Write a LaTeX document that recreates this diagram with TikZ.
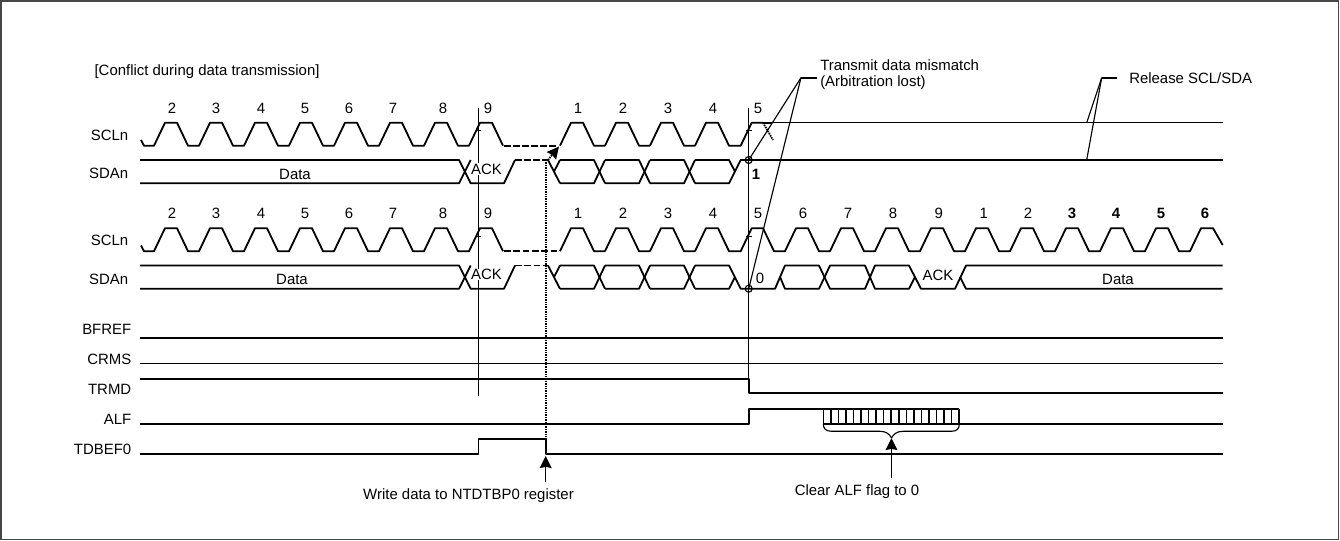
\documentclass[tikz,border=0pt]{standalone}
\usepackage{fontspec}
\setmainfont{Liberation Sans}
\usetikzlibrary{arrows.meta}
\tikzset{
    sig/.style={line width=1.35pt,line join=round},
    lean/.style={line width=1.15pt},
    lead/.style={line width=0.85pt},
    lbl/.style={inner sep=0pt,font=\fontsize{11.2}{12}\selectfont},
    boldlbl/.style={lbl,font=\fontsize{11.2}{12}\selectfont\bfseries},
    ack/.style={lbl,fill=white,inner sep=0.5pt},
    name lbl/.style={lbl,anchor=east},
    note/.style={lbl,anchor=west},
    spot/.style={line width=1.35pt,dash pattern=on 1.1pt off 0.7pt},
}
\begin{document}
\begin{tikzpicture}[x=0.75pt,y=-0.75pt,>={Stealth[length=9pt,width=8.8pt,inset=0.8pt]}]
    \useasboundingbox (0,0) rectangle (1340,541);
    \draw[gray!55!black,line width=1pt] (1,1) rectangle (1338.5,539.5);

    \node[note] (title) at (94.3,71.5) {[Conflict during data transmission]};

    \coordinate (misA) at (748.7,160);
    \coordinate (misB) at (748.7,288.7);
    \coordinate (misC) at (801,77.7);
    \coordinate (relA) at (1086.7,122.7);
    \coordinate (relB) at (1086.7,160);
    \coordinate (relC) at (1101.7,77.7);

    % edges of clock 9 and 5
    \draw[lead] (478.5,107.7) -- (478.5,396);
    \draw[lead] (748.7,107.7) -- (748.7,393.3);

    % the two bus pairs, second one moved down by 105.5
    \foreach \r/\m/\d in {0/1/295,105.5/2/292}{
        \draw[sig] (141,140+\r) -- (144,145.7+\r)
            foreach \b in {154,199,...,469}{ -- (\b,145.7+\r) -- ++(11,-23) -- ++(12,0) -- ++(11,23) } -- ++(0,0);
        \draw[sig] foreach \b in {560,605,650}{ (\b,145.7+\r) -- ++(11,-23) -- ++(12,0) -- ++(11,23) -- ++(11,0) }
            (695,145.7+\r) -- ++(11,-23) -- ++(12,0) -- ++(11,23) -- ++(11.7,0) -- (751.7,122.7+\r) -- (763,122.7+\r);
        \draw[sig] (140,160+\r) -- (459,160+\r) -- (470.7,183.3+\r) -- (504,183.3+\r) -- (515,160+\r);
        \draw[sig] (140,183.3+\r) -- (459,183.3+\r) -- (470.7,160+\r);
        \draw[sig] (548,160+\r) -- (560,183.3+\r) (554,171.6+\r) -- (560,160+\r);
        \foreach \b in {560,605,650}{
            \draw[sig] (\b,160+\r) -- ++(34,0) -- ++(11,23.3);
            \draw[sig] (\b,183.3+\r) -- ++(34,0) -- ++(11,-23.3);
        }
        \draw[lead] (475.5,130.7+\r) -- ++(5.5,0);
        \draw[lead] (746,130.7+\r) -- ++(5.7,0);
        \node[ack] (ack\m) at (486.5,169+\r) {ACK};
        \node[lbl] (data\m) at (\d,174+\r) {Data};
        \node[name lbl] (scl\m) at (128.5,135+\r) {SCLn};
        \node[name lbl] (sda\m) at (128.5,173.5+\r) {SDAn};
        \foreach \x/\n in {172/2,216/3,261/4,305/5,349/6,393/7,443/8,488/9,578/1,623/2,668/3,713/4,758/5}{
            \node[lbl] (num\m\x) at (\x,108+\r) {\n};
        }
    }

    % first pair, after the mismatch
    \draw[sig,dash pattern=on 5pt off 1.8pt] (504,145.7) -- (556,145.7);
    \draw[sig,dash pattern=on 5pt off 1.8pt] (515,160) -- (548,160);
    \draw[spot,->] (548,160) -- (559,146.5);
    \draw[sig] (763,122.7) -- (771,122.7);
    \draw[lean] (771,122.7) -- (1222.7,122.7);
    \draw[spot] (763,122.7) -- (773,140);
    \draw[sig] (695,160) -- (729,160) -- (735,171.6) (695,183.3) -- (729,183.3) -- (740.7,160) -- (771,160);
    \draw[lean] (771,160) -- (1222.7,160);
    \node[boldlbl] (bitA) at (756,174) {1};

    % second pair, goes on to the next byte
    \draw[lean,dash pattern=on 5pt off 2pt] (504,251.2) -- (560,251.2);
    \draw[lean,dash pattern=on 5pt off 2pt] (515,265.5) -- (548,265.5);
    \draw[sig] (763,228.2) -- (774,251.2) foreach \b in {785,830,...,1145}{ -- ++(11,0) -- ++(11,-23) -- ++(12,0) -- ++(11,23) } -- ++(11,0) -- ++(11,-23) -- ++(12,0) -- (1222.7,245);
    \draw[sig] (695,265.5) -- (729,265.5) -- (740.7,288.8) -- (775,288.8) -- (785,265.5) -- (819,265.5) -- (830,288.8) -- (865,288.8) -- (875,265.5) -- (909,265.5) -- (921,288.8) -- (955,288.8) -- (966,265.5) -- (1222.7,265.5);
    \draw[sig] (695,288.8) -- (729,288.8) -- (735,277) (780,277) -- (785,288.8) -- (819,288.8) -- (830,265.5) -- (865,265.5) -- (875,288.8) -- (909,288.8) -- (915,277) (960,277) -- (966,288.8) -- (1222.7,288.8);
    \node[lbl] (bitB) at (760,278) {0};
    \node[ack] (ack3) at (938,275) {ACK};
    \node[lbl] (data3) at (1118,279) {Data};
    \foreach \x/\n in {803/6,848/7,893/8,938.7/9,983.7/1,1028/2}{
        \node[lbl] (next\x) at (\x,213.5) {\n};
    }
    \foreach \x/\n in {1072/3,1116/4,1161/5,1205/6}{
        \node[boldlbl] (next\x) at (\x,213.5) {\n};
    }

    % level signals
    \draw[lean] (140,338) -- (1222.7,338);
    \draw[lean] (140,363.5) -- (1222.7,363.5);
    \draw[sig] (140,378.7) -- (748.7,378.7) -- (748.7,393.3) -- (1222.7,393.3);
    \draw[sig] (140,423.7) -- (748.7,423.7) -- (748.7,408.7) -- (959.3,408.7);
    \draw[sig] (823.3,423.7) -- (1222.7,423.7);
    \draw[sig] (140,453.7) -- (478.5,453.7) -- (478.5,438.7) -- (545.7,438.7) -- (545.7,453.7) -- (1222.7,453.7);
    \node[name lbl] (bfref) at (131.5,329) {BFREF};
    \node[name lbl] (crms) at (131.5,359) {CRMS};
    \node[name lbl] (trmd) at (131.5,389) {TRMD};
    \node[name lbl] (alf) at (131.5,419) {ALF};
    \node[name lbl] (tdbef) at (131.5,449.5) {TDBEF0};

    % flag being cleared
    \foreach \i in {0,...,18}{
        \draw[lean] (823.3+7.55*\i,408.7) -- (823.3+7.55*\i,423.7);
    }
    \coordinate (clrTip) at (891.5,438);
    \coordinate (clrEnd) at (891.5,478.5);
    \draw[lead] (823.3,423.7) .. controls (823.3,429) and (826,431.3) .. (832,431.3) -- (880,431.3) .. controls (886,431.3) and (889.5,434) .. (clrTip);
    \draw[lead] (959.3,423.7) .. controls (959.3,429) and (957,431.3) .. (951,431.3) -- (903,431.3) .. controls (897,431.3) and (893.5,434) .. (clrTip);
    \draw[lean,->] (clrEnd) -- (clrTip);
    \node[lbl] (clear) at (857,491.5) {Clear ALF flag to 0};

    % write to the buffer
    \coordinate (wrTip) at (545.7,456);
    \coordinate (wrEnd) at (545.7,482.5);
    \draw[spot] (545.7,160) -- (545.7,453.7);
    \draw[lean,->] (wrEnd) -- (wrTip);
    \node[lbl] (write) at (468.5,495.5) {Write data to NTDTBP0 register};

    % callouts
    \draw[lead] (misA) circle (3.5);
    \draw[lead] (misB) circle (3.5);
    \draw[lead] (misA) -- (misC);
    \draw[lead] (misB) -- (misC);
    \draw[sig] (misC) -- ++(16,0);
    \node[note] (mis1) at (820,65) {Transmit data mismatch};
    \node[note] (mis2) at (820,83) {(Arbitration lost)};
    \draw[lead] (relA) -- (relC);
    \draw[lead] (relB) -- (relC);
    \draw[sig] (relC) -- ++(15.5,0);
    \node[note] (rel) at (1129,77.7) {Release SCL/SDA};
\end{tikzpicture}
\end{document}
